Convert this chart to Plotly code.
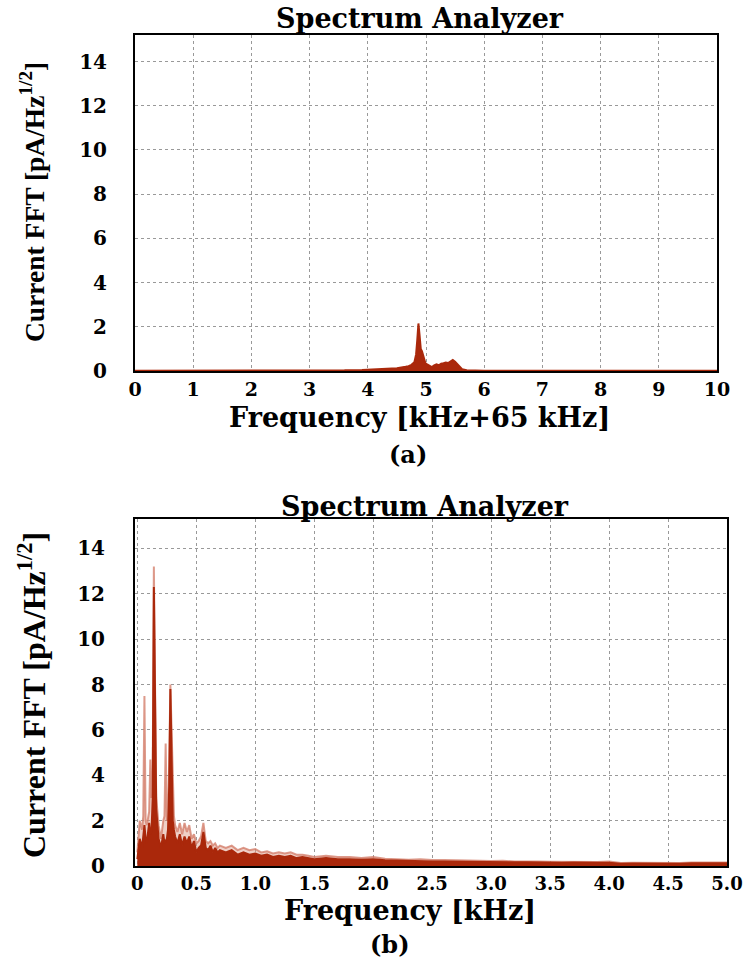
import plotly.graph_objects as go

# ---------------- data: panel (a) ----------------
freq_a = [0, 0.5, 1, 1.5, 2, 2.5, 3, 3.3, 3.6, 3.9, 4.1, 4.2, 4.3, 4.4, 4.5, 4.55, 4.6,
          4.65, 4.7, 4.75, 4.8, 4.83, 4.85, 4.87, 4.89, 4.91, 4.93, 4.96, 4.99, 5.02,
          5.06, 5.1, 5.14, 5.18, 5.22, 5.26, 5.3, 5.34, 5.38, 5.42, 5.46, 5.5, 5.54,
          5.58, 5.62, 5.7, 5.8, 6, 6.5, 7, 7.5, 8, 8.5, 9, 9.5, 10]
fft_a = [0.01, 0.01, 0.01, 0.01, 0.01, 0.01, 0.02, 0.02, 0.03, 0.05, 0.07, 0.08, 0.1,
         0.12, 0.13, 0.15, 0.16, 0.19, 0.22, 0.28, 0.4, 0.75, 1.4, 2.15, 1.6, 1.0, 0.9,
         0.6, 0.35, 0.3, 0.22, 0.18, 0.25, 0.3, 0.26, 0.33, 0.35, 0.38, 0.36, 0.45,
         0.5, 0.42, 0.3, 0.18, 0.08, 0.03, 0.02, 0.01, 0.01, 0.01, 0.01, 0.01, 0.01,
         0.01, 0.01, 0.01]

# ---------------- data: panel (b) ----------------
freq_b = [0.00, 0.02, 0.04, 0.05, 0.06, 0.07, 0.08, 0.10, 0.11, 0.12, 0.13, 0.14, 0.15,
          0.16, 0.18, 0.20, 0.22, 0.23, 0.24, 0.25, 0.26, 0.27, 0.28, 0.29, 0.30, 0.31,
          0.32, 0.34, 0.36, 0.38, 0.40, 0.42, 0.44, 0.46, 0.48, 0.50, 0.52, 0.54, 0.56,
          0.58, 0.60, 0.62, 0.64, 0.66, 0.68, 0.70, 0.75, 0.80, 0.85, 0.90, 0.95, 1.00,
          1.05, 1.10, 1.15, 1.20, 1.25, 1.30, 1.35, 1.40, 1.45, 1.50, 1.60, 1.70, 1.80,
          1.90, 2.00, 2.10, 2.20, 2.30, 2.40, 2.50, 2.60, 2.70, 2.80, 2.90, 3.00, 3.10,
          3.20, 3.30, 3.40, 3.50, 3.60, 3.70, 3.80, 3.90, 4.00, 4.10, 4.20, 4.30, 4.40,
          4.50, 4.60, 4.70, 4.80, 4.90, 5.00]
fft_b_mean = [0.3, 1.2, 0.8, 1.5, 1.8, 1.2, 1.0, 1.9, 1.4, 1.5, 3.0, 12.3, 7.3,
              2.5, 1.2, 0.8, 1.4, 1.0, 1.1, 1.2, 1.6, 3.5, 7.8, 5.0, 2.0, 1.6,
              1.3, 1.0, 1.4, 0.9, 1.3, 1.0, 1.3, 0.8, 1.1, 0.6, 0.8, 0.9, 1.5,
              0.8, 0.7, 0.9, 0.6, 0.8, 0.6, 0.7, 0.6, 0.7, 0.5, 0.6, 0.5, 0.55,
              0.45, 0.5, 0.4, 0.45, 0.4, 0.45, 0.35, 0.4, 0.35, 0.3, 0.35, 0.3, 0.3,
              0.28, 0.3, 0.25, 0.24, 0.22, 0.23, 0.2, 0.2, 0.19, 0.2, 0.18, 0.17, 0.18,
              0.16, 0.17, 0.15, 0.15, 0.14, 0.15, 0.13, 0.14, 0.14, 0.1, 0.11, 0.1, 0.12,
              0.11, 0.1, 0.12, 0.11, 0.1, 0.12]
fft_b_peak = [0.6, 2.0, 1.6, 2.2, 7.5, 2.0, 1.8, 2.4, 4.7, 3.0, 4.0, 13.2, 8.0,
              3.0, 1.8, 1.2, 2.0, 2.2, 5.4, 2.0, 2.4, 4.5, 8.0, 5.6, 4.7, 2.2,
              1.8, 1.5, 1.9, 1.4, 1.9, 1.5, 1.8, 1.2, 1.4, 1.0, 1.1, 1.3, 1.9,
              1.1, 1.0, 1.1, 0.9, 1.0, 0.8, 0.9, 0.8, 0.9, 0.7, 0.8, 0.7, 0.75,
              0.6, 0.65, 0.55, 0.6, 0.55, 0.6, 0.5, 0.5, 0.45, 0.4, 0.45, 0.4, 0.4,
              0.35, 0.4, 0.32, 0.3, 0.28, 0.3, 0.26, 0.26, 0.24, 0.25, 0.23, 0.22, 0.23,
              0.2, 0.21, 0.2, 0.19, 0.18, 0.19, 0.17, 0.18, 0.2, 0.13, 0.14, 0.13, 0.15,
              0.14, 0.13, 0.15, 0.14, 0.13, 0.15]

ticks_y = [0, 2, 4, 6, 8, 10, 12, 14]
ticks_xa = [0, 1, 2, 3, 4, 5, 6, 7, 8, 9, 10]
ticks_xb = [0, 0.5, 1.0, 1.5, 2.0, 2.5, 3.0, 3.5, 4.0, 4.5, 5.0]
ticktext_xb = ["0", "0.5", "1.0", "1.5", "2.0", "2.5", "3.0", "3.5", "4.0", "4.5", "5.0"]

DARK = "#aa280b"
LIGHT = "rgba(210,120,100,0.75)"
FONT = "DejaVu Serif"
YFONT = "Liberation Serif"
W, H = 747, 964

fig = go.Figure()
fig.add_trace(go.Scatter(x=freq_a, y=fft_a, mode="lines", line=dict(color=DARK, width=2),
                         fill="tozeroy", fillcolor=DARK, xaxis="x", yaxis="y", showlegend=False))
fig.add_trace(go.Scatter(x=freq_b, y=fft_b_peak, mode="lines", line=dict(color=LIGHT, width=2),
                         fill="tozeroy", fillcolor="rgba(220,150,130,0.45)",
                         xaxis="x2", yaxis="y2", showlegend=False))
fig.add_trace(go.Scatter(x=freq_b, y=fft_b_mean, mode="lines", line=dict(color=DARK, width=2),
                         fill="tozeroy", fillcolor=DARK, xaxis="x2", yaxis="y2", showlegend=False))

def axis(size, standoff, **kw):
    d = dict(showline=True, linecolor="black", linewidth=2, mirror=True, automargin=False,
             showgrid=True, gridcolor="#999999", griddash="dot", gridwidth=1,
             zeroline=False, ticks="", ticklabelstandoff=standoff,
             tickfont=dict(family=FONT, size=size, color="black", weight="bold"))
    d.update(kw)
    return d

fig.update_layout(
    width=W, height=H, margin=dict(l=0, r=0, t=0, b=0, autoexpand=False),
    paper_bgcolor="white", plot_bgcolor="white",
    xaxis=axis(19, 0, domain=[135 / W, 717 / W], anchor="y", range=[0, 10],
               tickvals=ticks_xa),
    yaxis=axis(20, 22, domain=[1 - 371 / H, 1 - 35 / H], anchor="x", range=[0, 15.2],
               tickvals=ticks_y),
    xaxis2=axis(18, 0, domain=[135 / W, 727 / W], anchor="y2", range=[-0.02, 5.0],
                tickvals=ticks_xb, ticktext=ticktext_xb),
    yaxis2=axis(20, 24, domain=[1 - 866 / H, 1 - 519 / H], anchor="x2", range=[0, 15.3],
                tickvals=ticks_y),
)

def txt(x, y, s, size, angle=0, family=FONT):
    fig.add_annotation(x=x / W, y=1 - y / H, xref="paper", yref="paper", text=s,
                       showarrow=False, textangle=angle, xanchor="center", yanchor="middle",
                       font=dict(family=family, size=size, color="black", weight="bold"))

txt(420, 18, "Spectrum Analyzer", 27)
txt(419, 417, "Frequency [kHz+65 kHz]", 27)
txt(408, 454, "(a)", 24)
txt(32, 202, "Current FFT [pA/Hz<sup>1/2</sup>]", 27.5, -90, YFONT)

txt(425, 506, "Spectrum Analyzer", 27)
txt(410, 910, "Frequency [kHz]", 27)
txt(390, 944, "(b)", 24)
txt(32, 695, "Current FFT [pA/Hz<sup>1/2</sup>]", 32, -90, YFONT)

fig.write_html("out.html", config={"displayModeBar": False},
               post_script="document.body.style.margin='0';document.body.style.overflow='hidden';")
